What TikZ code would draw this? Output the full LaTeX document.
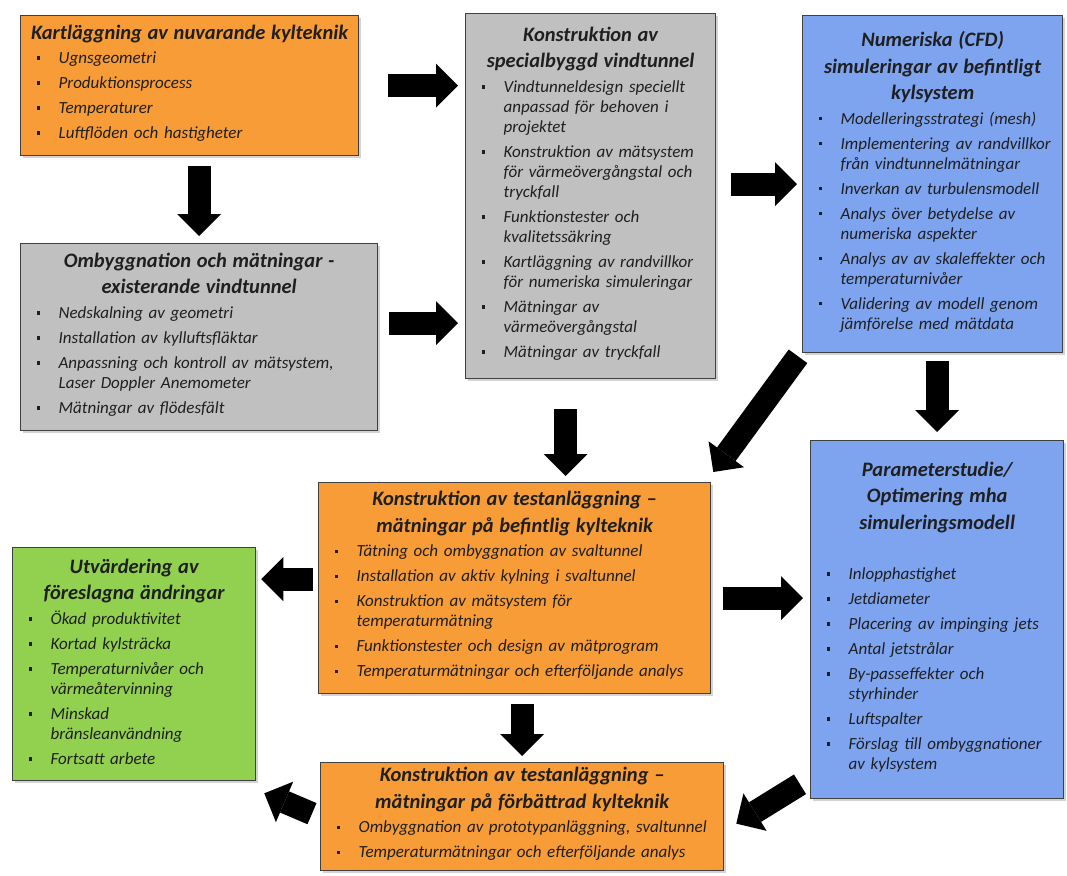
\documentclass[tikz,border=0pt]{standalone}
\usepackage{fontspec}
\setmainfont{Carlito}
\usetikzlibrary{arrows.meta, shadows}
\definecolor{kOrange}{RGB}{247,156,54}
\definecolor{kGray}{RGB}{192,192,192}
\definecolor{kBlue}{RGB}{126,164,240}
\definecolor{kGreen}{RGB}{146,208,80}
\newcommand{\rubrik}[1]{{\centering\fontsize{20.5}{26.5}\selectfont\bfseries\itshape #1\par}\vspace{4.5pt}}
\newcommand{\itm}[1]{{\raggedright\itshape\hangindent=28pt\hangafter=1\noindent\makebox[28pt][l]{\hspace{6pt}\raisebox{0.22em}{\rule{3.6pt}{3.6pt}}}#1\par}\vspace{5pt}}
\tikzset{
  box/.style={
    rectangle, anchor=north west, draw=black!75, line width=1.3pt,
    inner xsep=10pt, inner ysep=4pt, text=black!88,
    font=\fontsize{17}{20}\selectfont\itshape,
    drop shadow={shadow xshift=2pt,shadow yshift=-2pt,opacity=0.35}
  },
  orangebox/.style={box, fill=kOrange},
  graybox/.style={box, fill=kGray},
  bluebox/.style={box, fill=kBlue},
  greenbox/.style={box, fill=kGreen},
  blockarrow/.style={
    line width=23pt, black, -{Triangle[length=22pt,width=44pt,line width=0pt]}
  }
}
\begin{document}
\begin{tikzpicture}[x=1pt, y=-1pt]
  \useasboundingbox (0,0) rectangle (1067,875);

  % Boxes
  \node[orangebox, minimum width=338pt, minimum height=140pt, text width=318pt] (kart) at (20,15) {%
    \rubrik{Kartläggning av nuvarande kylteknik}
    \itm{Ugnsgeometri}
    \itm{Produktionsprocess}
    \itm{Temperaturer}
    \itm{Luftflöden och hastigheter}};

  \node[graybox, minimum width=357pt, minimum height=187pt, text width=337pt] (omb) at (20,243) {%
    \rubrik{Ombyggnation och mätningar -\\existerande vindtunnel}
    \itm{Nedskalning av geometri}
    \itm{Installation av kylluftsfläktar}
    \itm{Anpassning och kontroll av mätsystem,\newline Laser Doppler Anemometer}
    \itm{Mätningar av flödesfält}};

  \node[graybox, minimum width=250pt, minimum height=365pt, text width=230pt] (spec) at (465,13) {%
    \rubrik{Konstruktion av\\specialbyggd vindtunnel}
    \itm{Vindtunneldesign speciellt\newline anpassad för behoven i\newline projektet}
    \itm{Konstruktion av mätsystem\newline för värmeövergångstal och\newline tryckfall}
    \itm{Funktionstester och\newline kvalitetssäkring}
    \itm{Kartläggning av randvillkor\newline för numeriska simuleringar}
    \itm{Mätningar av\newline värmeövergångstal}
    \itm{Mätningar av tryckfall}};

  \node[bluebox, minimum width=260pt, minimum height=337pt, text width=240pt] (num) at (802,15) {%
    \rubrik{Numeriska (CFD)\\simuleringar av befintligt\\kylsystem}
    \itm{Modelleringsstrategi (mesh)}
    \itm{Implementering av randvillkor\newline från vindtunnelmätningar}
    \itm{Inverkan av turbulensmodell}
    \itm{Analys över betydelse av\newline numeriska aspekter}
    \itm{Analys av av skaleffekter och\newline temperaturnivåer}
    \itm{Validering av modell genom\newline jämförelse med mätdata}};

  \node[orangebox, minimum width=392pt, minimum height=211pt, text width=372pt] (befintlig) at (318,482) {%
    \rubrik{Konstruktion av testanläggning –\\mätningar på befintlig kylteknik}
    \itm{Tätning och ombyggnation av svaltunnel}
    \itm{Installation av aktiv kylning i svaltunnel}
    \itm{Konstruktion av mätsystem för\newline temperaturmätning}
    \itm{Funktionstester och design av mätprogram}
    \itm{Temperaturmätningar och efterföljande analys}};

  \node[greenbox, minimum width=243pt, minimum height=233pt, text width=223pt] (utv) at (12,547) {%
    \rubrik{Utvärdering av\\föreslagna ändringar}
    \itm{Ökad produktivitet}
    \itm{Kortad kylsträcka}
    \itm{Temperaturnivåer och\newline värmeåtervinning}
    \itm{Minskad\newline bränsleanvändning}
    \itm{Fortsatt arbete}};

  \node[bluebox, minimum width=253pt, minimum height=358pt, text width=233pt] (param) at (810,440) {%
    \rubrik{Parameterstudie/\\Optimering mha\\simuleringsmodell}
    \vspace{26pt}
    \itm{Inlopphastighet}
    \itm{Jetdiameter}
    \itm{Placering av impinging jets}
    \itm{Antal jetstrålar}
    \itm{By-passeffekter och\newline styrhinder}
    \itm{Luftspalter}
    \itm{Förslag till ombyggnationer\newline av kylsystem}};

  \node[orangebox, minimum width=403pt, minimum height=108pt, text width=383pt] (forb) at (320,762) {%
    \rubrik{Konstruktion av testanläggning –\\mätningar på förbättrad kylteknik}
    \itm{Ombyggnation av prototypanläggning, svaltunnel}
    \itm{Temperaturmätningar och efterföljande analys}};

  % Arrows
  \draw[blockarrow] ([xshift=29pt]kart.east) -- ([xshift=-7pt]kart.east -| spec.west);
  \draw[blockarrow] ([yshift=-10pt]kart.south -| omb.north) -- ([yshift=7pt]omb.north);
  \draw[blockarrow] ([xshift=11pt,yshift=14pt]omb.east) -- ([xshift=-7pt,yshift=14pt]omb.east -| spec.west);
  \draw[blockarrow] ([xshift=15pt]num.west -| spec.east) -- ([xshift=-5pt]num.west);
  \draw[blockarrow] ([xshift=-4pt,yshift=-3pt]num.south west) -- ([xshift=2pt,yshift=10pt]befintlig.north east);
  \draw[blockarrow] ([yshift=-8pt]num.south -| param.north) -- ([yshift=8pt]param.north);
  \draw[blockarrow] ([xshift=-25pt,yshift=-30pt]spec.south) -- ([xshift=-25pt,yshift=6pt]spec.south |- befintlig.north);
  \draw[blockarrow] ([xshift=-5pt,yshift=9pt]befintlig.west) -- ([xshift=5pt,yshift=9pt]befintlig.west -| utv.east);
  \draw[blockarrow] ([xshift=12pt,yshift=-10pt]befintlig.east) -- ([xshift=-7pt,yshift=-10pt]befintlig.east -| param.west);
  \draw[blockarrow] ([yshift=-10pt]befintlig.south -| forb.north) -- ([yshift=6pt]forb.north);
  \draw[blockarrow] ([xshift=-10pt,yshift=15pt]param.south west) -- ([xshift=12pt,yshift=-7pt]forb.east);
  \draw[blockarrow] ([xshift=-8pt,yshift=3pt]forb.west) -- ([xshift=8pt,yshift=-12pt]utv.south east);
\end{tikzpicture}
\end{document}
